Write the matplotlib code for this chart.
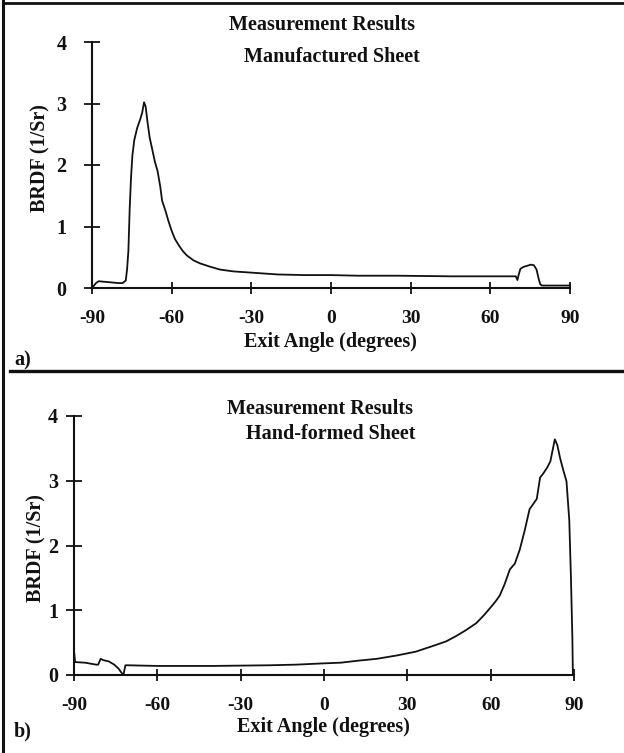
import matplotlib
matplotlib.use("Agg")
import matplotlib.pyplot as plt
from matplotlib.lines import Line2D

# ---- data ----
ANGLE_A = [-90, -88.5, -87.5, -85, -80, -78.5, -77.3, -76.8, -76.3, -75.8, -75.3,
           -74.8, -74.1, -73.0, -71.8, -71.1, -70.4, -69.8, -69.1, -68.3, -67.3,
           -66.3, -65.3, -64.3, -63.6, -62.3, -61.3, -60.0, -58.8, -57.4, -55.8,
           -54.3, -51.8, -49.3, -45.8, -41.8, -36.8, -30, -20, -10, 0, 10, 25, 45,
           69.6, 70.2, 70.7, 71.3, 72.3, 73.8, 75.3, 76.4, 77.4, 78.2, 78.8,
           79.4, 82, 90]
BRDF_A = [0.0, 0.08, 0.11, 0.10, 0.08, 0.08, 0.12, 0.30, 0.60, 1.30, 1.80,
          2.15, 2.40, 2.60, 2.75, 2.85, 3.02, 2.95, 2.70, 2.45, 2.25,
          2.05, 1.90, 1.65, 1.42, 1.25, 1.10, 0.93, 0.80, 0.70, 0.60,
          0.53, 0.45, 0.40, 0.35, 0.30, 0.27, 0.25, 0.22, 0.21, 0.21, 0.20, 0.20, 0.19,
          0.19, 0.13, 0.22, 0.31, 0.34, 0.36, 0.38, 0.37, 0.30, 0.15, 0.06,
          0.04, 0.04, 0.04]

ANGLE_B = [-90, -89.6, -86, -82, -81.3, -80.4, -79.5, -77.5, -75.5, -74, -72.8,
           -72.2, -71.5, -70.5, -60, -40, -20, -10, 0, 6, 12, 19, 26, 33, 40,
           44, 47.5, 51, 54.8, 57.5, 60.5, 62, 63.3, 65, 66.9, 68.7, 70.5, 72.3,
           74, 76.6, 77.8, 78.9, 80.3, 81.5, 82.2, 83.1, 84, 85, 86.1, 87.3, 88.3,
           88.9, 89.4, 89.6]
BRDF_B = [0.38, 0.20, 0.19, 0.16, 0.16, 0.25, 0.23, 0.21, 0.16, 0.10, 0.03,
          0.0, 0.15, 0.15, 0.14, 0.14, 0.15, 0.16, 0.18, 0.19, 0.22, 0.25, 0.30, 0.36, 0.46,
          0.52, 0.60, 0.69, 0.80, 0.92, 1.07, 1.15, 1.23, 1.40, 1.63, 1.72, 1.94, 2.24,
          2.56, 2.72, 3.05, 3.11, 3.20, 3.30, 3.45, 3.64, 3.55, 3.35, 3.17, 2.99, 2.39,
          1.50, 0.60, 0.0]

X_TICKS = [-90, -60, -30, 0, 30, 60, 90]
Y_TICKS = [0, 1, 2, 3, 4]

W, H = 624, 753
FONT = "Liberation Serif"
INK = "#111111"


def fx(px):
    return px / W


def fy(py):
    return 1 - py / H


def style_axes(ax, ypad, xpad):
    ax.set_xlim(-90, 90)
    ax.set_ylim(0, 4)
    ax.set_xticks(X_TICKS)
    ax.set_yticks(Y_TICKS)
    ax.set_xticklabels([str(t) for t in X_TICKS])
    ax.set_yticklabels([str(t) for t in Y_TICKS])
    for s in ("top", "right"):
        ax.spines[s].set_visible(False)
    for s in ("left", "bottom"):
        ax.spines[s].set_linewidth(1.5)
        ax.spines[s].set_color(INK)
    ax.tick_params(axis="x", direction="inout", length=8, width=1.3,
                   pad=xpad, colors=INK, labelsize=14)
    ax.tick_params(axis="y", direction="inout", length=11, width=1.3,
                   pad=ypad, colors=INK, labelsize=14.5)
    for lab in ax.get_xticklabels() + ax.get_yticklabels():
        lab.set_fontfamily(FONT)
        lab.set_fontweight("bold")
    ax.patch.set_alpha(0)


fig = plt.figure(figsize=(W / 100, H / 100), dpi=100)

# panel a
ax_a = fig.add_axes([fx(92), fy(288), fx(570) - fx(92), fy(42) - fy(288)])
ax_a.plot(ANGLE_A, BRDF_A, color=INK, lw=1.3, clip_on=False)
style_axes(ax_a, ypad=13, xpad=12)

# panel b
ax_b = fig.add_axes([fx(74), fy(675), fx(574) - fx(74), fy(416) - fy(675)])
ax_b.plot(ANGLE_B, BRDF_B, color=INK, lw=1.3, clip_on=False)
style_axes(ax_b, ypad=6, xpad=12)

txt = dict(family=FONT, fontweight="bold", fontsize=14.5, color=INK)
fig.text(fx(322), fy(25), "Measurement Results", ha="center", va="center", **txt)
fig.text(fx(332), fy(57), "Manufactured Sheet", ha="center", va="center", **txt)
fig.text(fx(330), fy(342), "Exit Angle (degrees)", ha="center", va="center", **txt)
fig.text(fx(40), fy(158), "BRDF (1/Sr)", ha="center", va="center", rotation=90, **txt)
fig.text(fx(14), fy(360), "a)", ha="left", va="center", **txt)

fig.text(fx(320), fy(409), "Measurement Results", ha="center", va="center", **txt)
fig.text(fx(331), fy(434), "Hand-formed Sheet", ha="center", va="center", **txt)
fig.text(fx(323), fy(727), "Exit Angle (degrees)", ha="center", va="center", **txt)
fig.text(fx(36), fy(548), "BRDF (1/Sr)", ha="center", va="center", rotation=90, **txt)
fig.text(fx(14), fy(731), "b)", ha="left", va="center", **txt)

# frame lines of the scanned page
fig.add_artist(Line2D([fx(3), fx(3)], [0, 1], color=INK, lw=2.2))
fig.add_artist(Line2D([fx(3), 1], [fy(3), fy(3)], color=INK, lw=2.0))
fig.add_artist(Line2D([fx(10), 1], [fy(371), fy(371)], color=INK, lw=2.4))

fig.savefig("out.png", dpi=100)
